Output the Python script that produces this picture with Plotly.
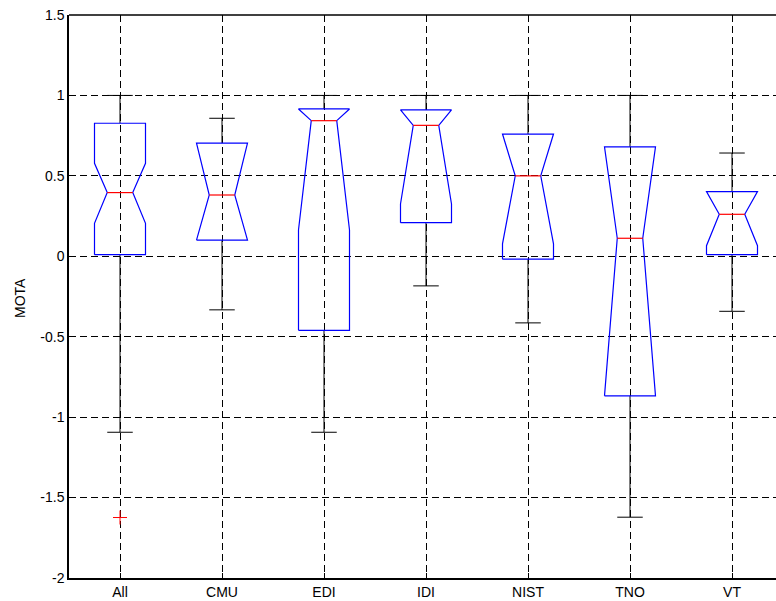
import plotly.graph_objects as go

# ---- data (notched box plot of MOTA) ----
categories = ["All", "CMU", "EDI", "IDI", "NIST", "TNO", "VT"]
q1 = [0.01, 0.10, -0.46, 0.209, -0.018, -0.868, 0.01]
q3 = [0.827, 0.703, 0.916, 0.91, 0.76, 0.68, 0.402]
median = [0.396, 0.381, 0.843, 0.814, 0.50, 0.112, 0.261]
notch_lo = [0.205, 0.10, 0.164, 0.325, 0.077, -0.868, 0.066]
notch_hi = [0.578, 0.703, 0.916, 0.91, 0.76, 0.68, 0.402]
whisker_lo = [-1.094, -0.333, -1.094, -0.184, -0.414, -1.622, -0.342]
whisker_hi = [1.0, 0.858, 1.0, 1.0, 1.0, 1.0, 0.642]
outlier_cat = ["All"]
outlier_val = [-1.624]

yticks = [1.5, 1, 0.5, 0, -0.5, -1, -1.5, -2]
ytick_labels = ["1.5", "1", "0.5", "0", "-0.5", "-1", "-1.5", "-2"]

# ---- drawing styles ----
BOX_HALF = 0.25
NOTCH_HALF = 0.125
CAP_HALF = 0.125
FONT = "Liberation Sans, Arial, sans-serif"

fig = go.Figure()

for i, cat in enumerate(categories):
    c = i + 1
    xs = [c - BOX_HALF, c - BOX_HALF, c - NOTCH_HALF, c - BOX_HALF, c - BOX_HALF,
          c + BOX_HALF, c + BOX_HALF, c + NOTCH_HALF, c + BOX_HALF, c + BOX_HALF,
          c - BOX_HALF]
    ys = [q1[i], notch_lo[i], median[i], notch_hi[i], q3[i],
          q3[i], notch_hi[i], median[i], notch_lo[i], q1[i],
          q1[i]]
    fig.add_trace(go.Scatter(
        x=[c, c, None, c, c, None,
           c - CAP_HALF, c + CAP_HALF, None, c - CAP_HALF, c + CAP_HALF],
        y=[q3[i], whisker_hi[i], None, q1[i], whisker_lo[i], None,
           whisker_hi[i], whisker_hi[i], None, whisker_lo[i], whisker_lo[i]],
        mode="lines", line=dict(color="black", width=1),
        hoverinfo="skip", showlegend=False))
    fig.add_trace(go.Scatter(
        x=xs, y=ys, mode="lines", line=dict(color="#0000FF", width=1.2),
        hoverinfo="skip", showlegend=False))
    fig.add_trace(go.Scatter(
        x=[c - NOTCH_HALF, c + NOTCH_HALF], y=[median[i], median[i]],
        mode="lines", line=dict(color="#FF0000", width=1.2),
        hoverinfo="skip", showlegend=False))

fig.add_trace(go.Scatter(
    x=[categories.index(k) + 1 for k in outlier_cat], y=outlier_val,
    mode="markers",
    marker=dict(symbol="cross-thin", size=10, line=dict(color="#FF0000", width=1)),
    hoverinfo="skip", showlegend=False))

W, H = 776, 601
L, T, B, R = 69, 15, 23, 0
px_per_unit = 102.0
x_right = 0.5 + (W - L - R) / px_per_unit

fig.update_layout(
    width=W, height=H,
    margin=dict(l=L, r=R, t=T, b=B, autoexpand=False),
    paper_bgcolor="white", plot_bgcolor="white",
    font=dict(family=FONT, size=14, color="black"),
    xaxis=dict(
        range=[0.5, x_right], tickmode="array",
        tickvals=list(range(1, len(categories) + 1)), ticktext=categories,
        showgrid=True, gridcolor="black", gridwidth=1, griddash="7px,4px",
        showline=True, linecolor="black", linewidth=1.5,
        ticks="inside", ticklen=5, tickcolor="black",
        zeroline=False, tickfont=dict(size=14, family=FONT), automargin=False,
    ),
    yaxis=dict(
        range=[-2, 1.5], tickmode="array",
        tickvals=yticks, ticktext=ytick_labels,
        showgrid=True, gridcolor="black", gridwidth=1, griddash="7px,4px",
        showline=True, linecolor="black", linewidth=1.5,
        ticks="inside", ticklen=5, tickcolor="black",
        zeroline=False, tickfont=dict(size=14, family=FONT), automargin=False,
    ),
    shapes=[dict(type="line", xref="paper", yref="paper", x0=0, x1=1, y0=1, y1=1,
                 line=dict(color="black", width=1.5))],
    annotations=[dict(text="MOTA", xref="paper", yref="paper",
                      x=(20 - L) / (W - L - R), y=(H - B - 298) / (H - T - B),
                      xanchor="center", yanchor="middle", textangle=-90,
                      showarrow=False, font=dict(size=14, family=FONT))],
)

fig.write_html("out.html",
               config={"displayModeBar": False},
               post_script="document.body.style.margin='0';document.body.style.padding='0';")
